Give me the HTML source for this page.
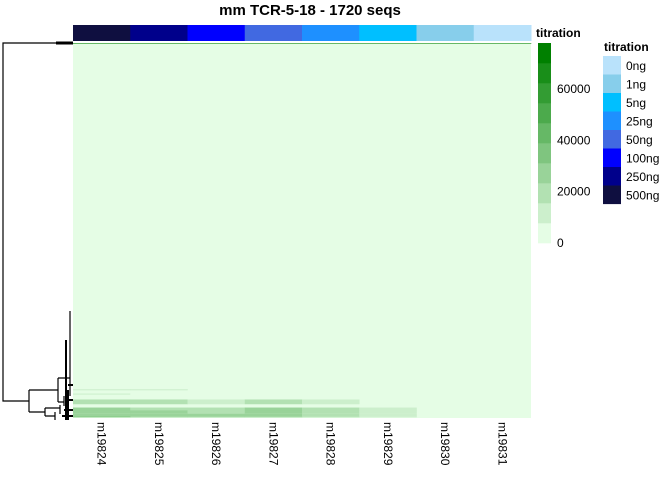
<!DOCTYPE html>
<html><head><meta charset="utf-8"><style>
body{margin:0;background:#fff;font-family:"Liberation Sans",sans-serif}
svg text{font-family:"Liberation Sans",sans-serif}
</style></head><body>
<svg id="c" width="672" height="480">
<text x="310" y="15" text-anchor="middle" font-size="15" font-weight="bold">mm TCR-5-18 - 1720 seqs</text>
<g id="dendro" stroke="#000" stroke-width="1.2" fill="none">
<path d="M70,43H3V401H29"/>
<path d="M56,43H73" stroke-width="3"/>
<path d="M29,390V412M29,390H58M58,378V402M58,378H70M70,311V396M58,402H64M64,396V406M29,412H45M45,408V416M45,408H60M45,416H55M55,412V420M60,405V414"/>
<path d="M66,340V420M68,390V420M64,410H73M62,416H73M66,400H73M68,385H73" stroke-width="2"/>
</g>
<g id="anno"></g>
<g id="heat"></g>
<g id="labels"></g>
<g id="legend"></g>
</svg>
<script>
const samples=["m19824","m19825","m19826","m19827","m19828","m19829","m19830","m19831"];
const titration=["500ng","250ng","100ng","50ng","25ng","5ng","1ng","0ng"];
const legendLevels=["0ng","1ng","5ng","25ng","50ng","100ng","250ng","500ng"];
const levelColors=["#b9e2fb","#87ceeb","#00bfff","#1e90ff","#4169e1","#0000ff","#00008b","#0f0f40"];
const totalRows=1720;
// bands: starting row, row count, values per sample
const bandStart=[0,1588,1608,1635,1672,1685,1700,1712];
const bandCount=[4,5,4,22,14,15,12,5];
const bandValues=[
 [45000,45000,45000,45000,45000,45000,45000,45000],
 [9000,5000,0,0,0,0,0,0],
 [6000,2000,0,0,0,0,0,0],
 [16000,13000,10000,15000,10000,0,0,0],
 [22000,20000,16000,22000,17000,12000,0,0],
 [25000,24000,20000,25000,18000,10000,0,0],
 [27000,25000,22000,27000,19000,9000,0,0],
 [35000,28000,24000,30000,20000,8000,0,0]];
const scaleTicks=[0,20000,40000,60000];
const vmax=78000;
const NS="http://www.w3.org/2000/svg";
function mk(p,t,a){const e=document.createElementNS(NS,t);for(const k in a)e.setAttribute(k,a[k]);p.appendChild(e);return e;}
const X0=73,X1=531,Y0=43,Y1=418;
const cw=(X1-X0)/samples.length;
const xs=i=>X0+i*cw;
const ys=r=>Y0+r*(Y1-Y0)/totalRows;
const lo=[229,253,229],hi=[0,128,0];
function green(v){let t=Math.min(1,Math.max(0,v/vmax));t=Math.round(t*9)/9;return "rgb("+lo.map((c,i)=>Math.round(c+(hi[i]-c)*t)).join(",")+")";}
const anno=document.getElementById('anno'),heat=document.getElementById('heat'),labels=document.getElementById('labels'),legend=document.getElementById('legend');
titration.forEach((t,i)=>{const r=mk(anno,'rect',{x:xs(i),y:25,width:cw+0.5,height:16,fill:levelColors[legendLevels.indexOf(t)]});

});
const tt=mk(anno,'text',{x:536,y:37,'font-size':12,'font-weight':'bold'});tt.textContent="titration";


const bg=mk(heat,'rect',{x:X0,y:Y0,width:X1-X0,height:Y1-Y0,fill:green(0)});


bandStart.forEach((s,b)=>{bandValues[b].forEach((v,i)=>{if(v<=0)return;
const r=mk(heat,'rect',{x:xs(i),y:ys(s),width:cw+0.3,height:Math.max(1,ys(s+bandCount[b])-ys(s)),fill:green(v)});

});});
samples.forEach((s,i)=>{const x=xs(i)+cw/2;const t=mk(labels,'text',{x:0,y:0,'font-size':12,transform:`translate(${x-4},422) rotate(90)`});t.textContent=s;

});
// color scale legend
for(let k=0;k<10;k++){const r=mk(legend,'rect',{x:538,y:243-(k+1)*20,width:13,height:20.3,fill:green(k*vmax/9)});

}
const sy=v=>243-v*(200/vmax);
scaleTicks.forEach(v=>{const t=mk(legend,'text',{x:557,y:sy(v)+4,'font-size':12});t.textContent=v;

});
const lt=mk(legend,'text',{x:604,y:51,'font-size':12,'font-weight':'bold'});lt.textContent="titration";


legendLevels.forEach((l,i)=>{const y=56+i*18.5;
const r=mk(legend,'rect',{x:603,y:y,width:18,height:18.6,fill:levelColors[i]});


const t=mk(legend,'text',{x:626,y:y+14,'font-size':12});t.textContent=l;

});
</script>
</body></html>
